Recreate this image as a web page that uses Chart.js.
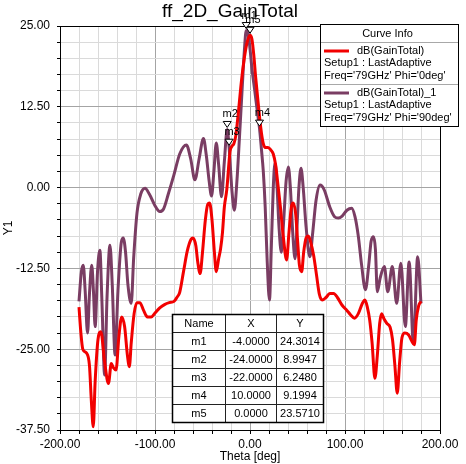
<!DOCTYPE html>
<html>
<head>
<meta charset="utf-8">
<title>ff_2D_GainTotal</title>
<script src="https://cdn.jsdelivr.net/npm/chart.js@4.4.1/dist/chart.umd.min.js"></script>
<style>
  html, body { margin: 0; padding: 0; background: #fff; }
  #wrap { width: 466px; height: 464px; }
</style>
</head>
<body>
<div id="wrap"><canvas id="gain" width="466" height="464"></canvas></div>
<script>
// dB(GainTotal), Phi = 0deg (red)
const theta0 = [-180, -178, -176, -172, -169, -167, -165, -163, -160, -157, -153, -149, -146, -144, -141, -138, -135, -132, -129, -127,
  -125, -122, -119, -116, -112, -108, -104, -100, -95, -90, -85, -80, -77, -74, -70, -66, -62, -60, -57, -55,
  -52.5, -50, -47, -44.5, -42.5, -40, -37.5, -35.5, -33, -31, -29, -27, -24.5, -21, -19, -17, -15, -12, -9, -6,
  -3, 0, 2, 4, 6, 8, 10, 12, 14, 16, 19, 22, 24.5, 27, 29, 32, 35, 38.5, 41, 43.5,
  45.5, 48, 50, 52, 54.4, 56.5, 59, 61.4, 64, 67, 70, 73, 76, 80, 84, 88, 92, 97, 102, 106,
  110, 114, 118, 121, 123.5, 126, 128.5, 131.5, 134, 136.5, 138.5, 141, 144, 147.5, 150, 152.5, 155, 157.5, 160, 163,
  167, 170.5, 173, 175, 177.5, 180];
const gain0 = [-18.5, -22.5, -25.0, -25.6, -27.5, -33, -37.0, -30, -23.5, -22.3, -27, -30.3, -27.2, -27.8, -28.2, -23, -20.0, -21.5, -26, -27.7,
  -24, -19.5, -17.8, -17.8, -19, -20, -20, -19.4, -18.6, -18.1, -17.8, -17.6, -17.0, -16.2, -13, -9.8, -8.0, -7.8, -9, -11.5,
  -13.3, -10, -5, -2.6, -2.4, -5, -10, -13, -11, -9.5, -7, -3, -0.4, 5.6, 6.4, 6.8, 8, 12, 16.5, 20,
  22.5, 23.571, 23, 20.5, 17, 14, 11, 8.5, 6.8, 6.2, 6.2, 5.8, 5.2, 3.5, 1, -3, -7.5, -11.2, -7, -3,
  -2.4, -4, -8, -12, -13, -10, -7.8, -7.5, -8.5, -10.5, -13.5, -16.5, -17.4, -17, -16.4, -16.4, -17, -18.2, -19, -19.7,
  -20.2, -19.5, -18, -17.4, -18.5, -20.5, -24, -29.5, -26, -21, -19.5, -20.3, -21, -21.6, -23.5, -27.5, -31.8, -27, -23.2, -22.5,
  -22.8, -23.8, -24.3, -20.5, -18.3, -17.6];

// dB(GainTotal)_1, Phi = 90deg (purple)
const theta90 = [-180, -177.5, -175.5, -173.5, -171, -169, -166.6, -164.8, -163, -160.5, -158, -156, -153, -150.5, -147.4, -145, -142, -139, -135.5, -133.4,
  -131, -128.5, -125, -122.5, -119, -115, -110.5, -106, -100, -95, -91, -86, -80, -74, -67, -62.5, -58, -53.5, -49, -46,
  -43, -40.5, -38, -35.5, -33, -30, -27, -24, -22, -19, -16.5, -14, -11, -8, -6, -4, -2, 0, 2, 5,
  8, 10, 12, 14, 16, 18, 20.5, 22.5, 24.5, 26.3, 28.5, 30.5, 33, 35.5, 38, 40.4, 42.5, 45, 47.4, 49.5,
  51.5, 53.7, 56, 59, 63, 66, 69.5, 73.7, 78, 84, 89, 93, 97, 102, 107, 110.5, 114, 117.5, 121.5, 125,
  127.5, 130, 132, 134, 137, 141.4, 145, 149.8, 154.4, 158.8, 163.5, 167.5, 172, 176.5, 180];
const gain90 = [-17.6, -13, -12, -16, -22.5, -16.5, -12, -16, -21.5, -13, -9.7, -17, -29, -17, -8.9, -15, -25.9, -16, -8.5, -7.8,
  -10, -15, -17.9, -11, -4, -1, -0.1, -1, -2.8, -3.7, -3.3, -1, 2, 5.2, 6.6, 4.5, 1.2, 4.5, 7.6, 5,
  1, -1.3, 2.5, 6.9, 3.5, -1.4, 4, 8.9947, 6.248, -0.5, -3.5, 0.5, 8, 16, 21, 24.3014, 23.8, 21.5, 18.5, 15,
  11.5, 9.1994, 6, 2.5, -3, -11, -17.4, -9, 0, 3.8, 0, -6, -10, -5, 1, 3.2, 0, -7, -11, -6,
  0, 3, 0, -6, -10.7, -7, -2, 0.4, -0.3, -3, -4.5, -4.7, -4.4, -3.5, -3.2, -4.5, -7.5, -12, -15.8, -12,
  -8.3, -7.6, -9.5, -16.1, -14, -12.2, -16.1, -12.2, -17.9, -11.7, -21.5, -11.5, -24.1, -10.7, -17.9];

// markers table
const markerNames = ['m1', 'm2', 'm3', 'm4', 'm5'];
const markerX = [-4, -24, -22, 10, 0];
const markerY = [24.3014, 8.9947, 6.2480, 9.1994, 23.5710];

const curveNames = ['dB(GainTotal)', 'dB(GainTotal)_1'];
const curveSetup = ['Setup1 : LastAdaptive', 'Setup1 : LastAdaptive'];
const curveFreq = ["Freq='79GHz' Phi='0deg'", "Freq='79GHz' Phi='90deg'"];
const curveColors = ['#f20000', '#7a3d63'];

const FONT = "'Liberation Sans', Arial, sans-serif";
Chart.defaults.font.family = FONT;
Chart.defaults.color = '#000';

function isMult(v, step) {
  const r = v / step;
  return Math.abs(r - Math.round(r)) < 1e-6;
}

const extras = {
  id: 'extras',
  afterDraw(chart) {
    const ctx = chart.ctx;
    const a = chart.chartArea;
    const xs = chart.scales.x, ys = chart.scales.y;
    ctx.save();

    // frame top / right
    ctx.strokeStyle = '#000';
    ctx.lineWidth = 1;
    ctx.beginPath();
    ctx.moveTo(a.left, a.top + 0.5);
    ctx.lineTo(a.right + 0.5, a.top + 0.5);
    ctx.lineTo(a.right + 0.5, a.bottom);
    ctx.stroke();

    // title + axis titles
    ctx.fillStyle = '#000';
    ctx.textAlign = 'center';
    ctx.textBaseline = 'middle';
    ctx.font = '19px ' + FONT;
    ctx.fillText('ff_2D_GainTotal', 230, 12);
    ctx.font = '12px ' + FONT;
    ctx.fillText('Theta [deg]', (a.left + a.right) / 2, 457);
    ctx.save();
    ctx.translate(9, (a.top + a.bottom) / 2);
    ctx.rotate(-Math.PI / 2);
    ctx.fillText('Y1', 0, 0);
    ctx.restore();

    // markers
    ctx.font = '11px ' + FONT;
    markerNames.forEach((n, i) => {
      const px = xs.getPixelForValue(markerX[i]);
      const py = ys.getPixelForValue(markerY[i]);
      const tip = py - 2, top = py - 8;
      ctx.beginPath();
      ctx.moveTo(px - 4, top);
      ctx.lineTo(px + 4, top);
      ctx.lineTo(px, tip);
      ctx.closePath();
      ctx.fillStyle = '#fff';
      ctx.fill();
      ctx.strokeStyle = '#000';
      ctx.stroke();
      ctx.fillStyle = '#000';
      ctx.fillText(n, px + 3, top - 7);
    });

    // curve info box
    const lx = 320.5, ly = 24.5, lw = 138, lh = 102;
    ctx.fillStyle = '#fff';
    ctx.fillRect(lx, ly, lw, lh);
    ctx.strokeStyle = '#a8a8a8';
    ctx.beginPath();
    ctx.moveTo(lx, 42.5); ctx.lineTo(lx + lw, 42.5);
    ctx.moveTo(lx, 84.5); ctx.lineTo(lx + lw, 84.5);
    ctx.stroke();
    ctx.strokeStyle = '#000';
    ctx.strokeRect(lx, ly, lw, lh);
    ctx.fillStyle = '#000';
    ctx.font = '11px ' + FONT;
    ctx.textAlign = 'center';
    ctx.fillText('Curve Info', lx + lw / 2 - 2, 33.5);
    ctx.textAlign = 'left';
    curveNames.forEach((n, i) => {
      const y0 = 51 + i * 42;
      ctx.strokeStyle = curveColors[i];
      ctx.lineWidth = 3;
      ctx.beginPath();
      ctx.moveTo(324, y0); ctx.lineTo(349, y0);
      ctx.stroke();
      ctx.lineWidth = 1;
      ctx.fillStyle = '#000';
      ctx.fillText(n, 357, y0);
      ctx.fillText(curveSetup[i], 324, y0 + 12);
      ctx.fillText(curveFreq[i], 324, y0 + 24.5);
    });

    // markers table
    const cols = [172.5, 225.5, 276.5, 323.5];
    const t0 = 314.5, rh = 18;
    const rows = markerNames.length + 1;
    ctx.fillStyle = '#fff';
    ctx.fillRect(cols[0], t0, cols[3] - cols[0], rows * rh);
    ctx.strokeStyle = '#222';
    ctx.lineWidth = 1;
    ctx.beginPath();
    for (let r = 1; r < rows; r++) {
      ctx.moveTo(cols[0], t0 + r * rh); ctx.lineTo(cols[3], t0 + r * rh);
    }
    ctx.moveTo(cols[1], t0); ctx.lineTo(cols[1], t0 + rows * rh);
    ctx.moveTo(cols[2], t0); ctx.lineTo(cols[2], t0 + rows * rh);
    ctx.stroke();
    ctx.lineWidth = 1.5;
    ctx.strokeStyle = '#000';
    ctx.strokeRect(cols[0], t0, cols[3] - cols[0], rows * rh);
    ctx.fillStyle = '#000';
    ctx.textAlign = 'center';
    ctx.font = '11px ' + FONT;
    const head = ['Name', 'X', 'Y'];
    head.forEach((h, c) => ctx.fillText(h, (cols[c] + cols[c + 1]) / 2, t0 + rh / 2 + 0.5));
    markerNames.forEach((n, i) => {
      const yy = t0 + (i + 1.5) * rh + 0.5;
      ctx.fillText(n, (cols[0] + cols[1]) / 2, yy);
      ctx.fillText(markerX[i].toFixed(4), (cols[1] + cols[2]) / 2, yy);
      ctx.fillText(markerY[i].toFixed(4), (cols[2] + cols[3]) / 2, yy);
    });
    ctx.restore();
  }
};

const toPoints = (xs, ys) => xs.map((x, i) => ({ x: x, y: ys[i] }));

new Chart(document.getElementById('gain'), {
  type: 'line',
  data: {
    datasets: [
      {
        label: curveNames[0],
        data: toPoints(theta0, gain0),
        borderColor: curveColors[0],
        borderWidth: 3,
        pointRadius: 0,
        cubicInterpolationMode: 'monotone'
      },
      {
        label: curveNames[1],
        data: toPoints(theta90, gain90),
        borderColor: curveColors[1],
        borderWidth: 3,
        pointRadius: 0,
        cubicInterpolationMode: 'monotone'
      }
    ]
  },
  options: {
    responsive: false,
    animation: false,
    layout: { padding: { left: 0, top: 26, right: 26, bottom: 0 } },
    plugins: { legend: { display: false }, tooltip: { enabled: false } },
    scales: {
      x: {
        type: 'linear',
        min: -200,
        max: 200,
        afterFit(s) { s.height = 34; },
        ticks: {
          stepSize: 20,
          autoSkip: false,
          maxRotation: 0,
          padding: 3,
          font: { size: 12 },
          callback: v => isMult(v, 100) ? v.toFixed(2) : ''
        },
        grid: {
          color: c => (c.tick && isMult(c.tick.value, 100)) ? '#a4a4a4' : '#dadada',
          tickLength: 4,
          tickColor: '#000'
        },
        border: { color: '#000' }
      },
      y: {
        min: -37.5,
        max: 25,
        afterFit(s) { s.width = 60; },
        ticks: {
          stepSize: 2.5,
          autoSkip: false,
          padding: 7,
          font: { size: 12 },
          callback: v => isMult(v, 12.5) ? v.toFixed(2) : ''
        },
        grid: {
          color: c => (c.tick && isMult(c.tick.value, 12.5)) ? '#a4a4a4' : '#dadada',
          tickLength: 3,
          tickColor: '#000'
        },
        border: { color: '#000' }
      }
    }
  },
  plugins: [extras]
});
</script>
</body>
</html>
